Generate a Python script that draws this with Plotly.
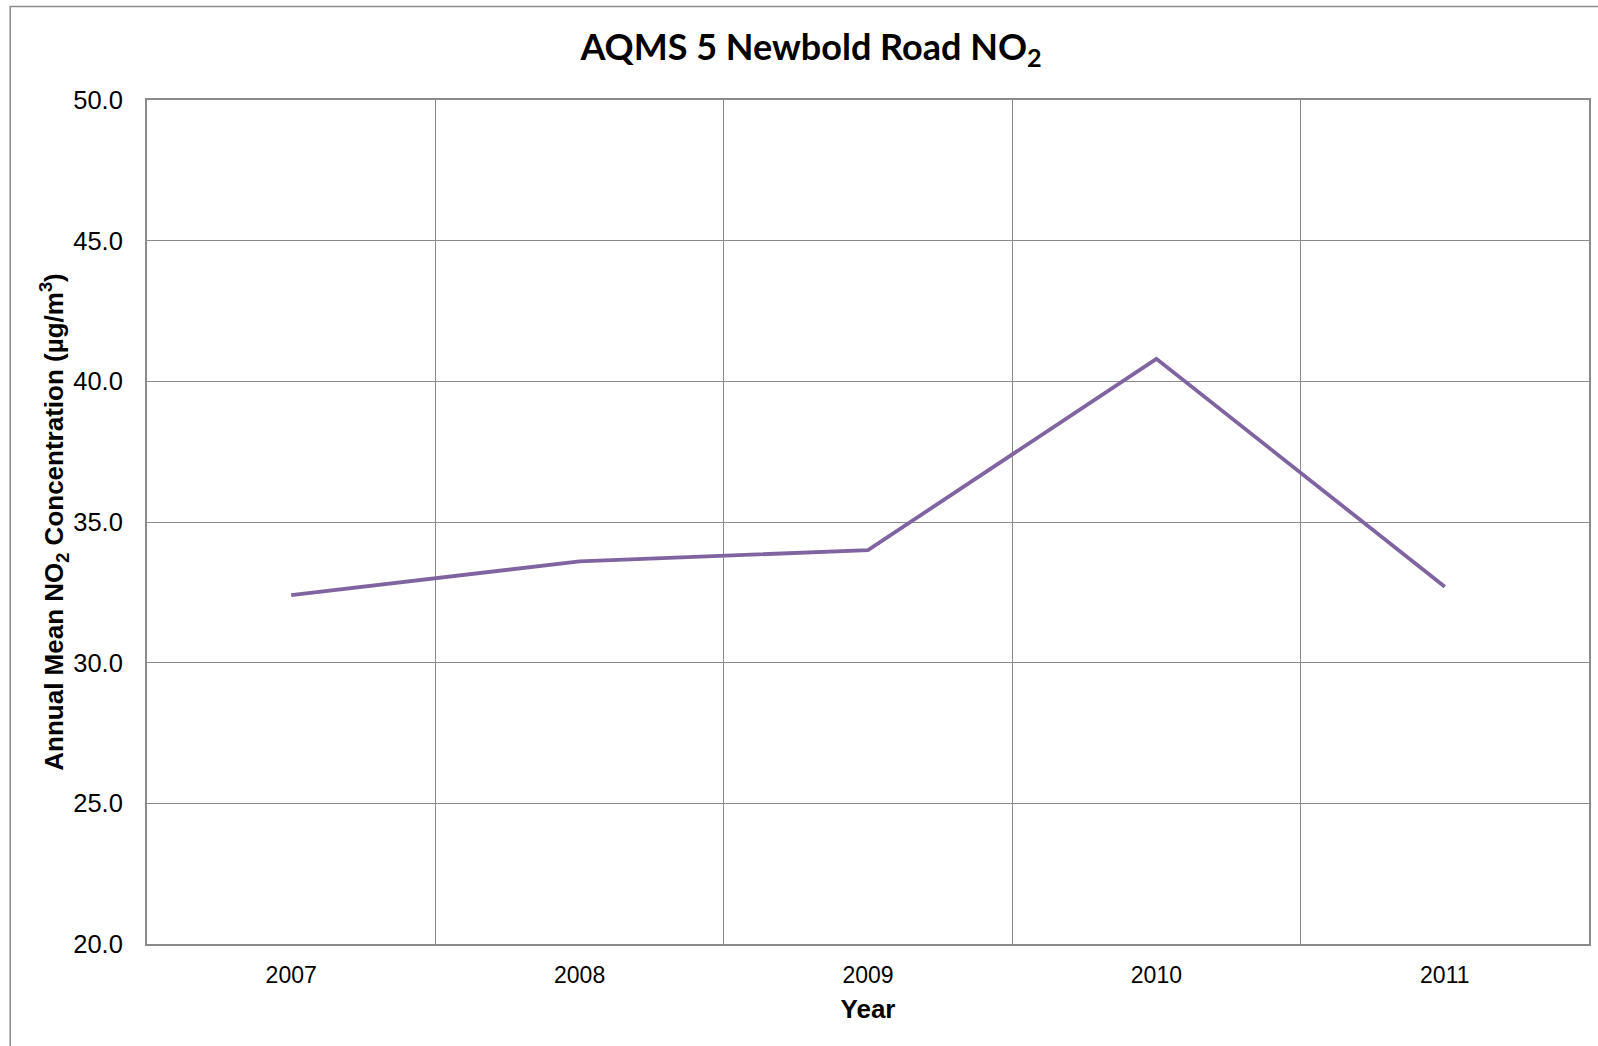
import plotly.graph_objects as go

years = ["2007", "2008", "2009", "2010", "2011"]
no2 = [32.4, 33.6, 34.0, 40.8, 32.7]
y_ticks = [20, 25, 30, 35, 40, 45, 50]

W, H = 1598, 1046
L, R, T, B = 147, 7, 100, 102
PW, PH = W - L - R, H - T - B

def px(x):
    return (x - L) / PW

def py(y):
    return (H - B - y) / PH

fig = go.Figure()
fig.add_trace(go.Scatter(
    x=years, y=no2, mode="lines",
    line=dict(color="#8064A2", width=3.8),
    hoverinfo="x+y", showlegend=False,
))

grid = "#8a8a8a"
fig.update_layout(
    width=W, height=H,
    margin=dict(l=L, r=R, t=T, b=B),
    paper_bgcolor="white", plot_bgcolor="white",
    title=dict(
        text="AQMS 5 Newbold Road NO<sub>2</sub>",
        font=dict(family="Lato", size=36, color="black", weight="bold"),
        x=811 / W, xref="container", xanchor="center",
        y=1 - 47 / H, yref="container", yanchor="middle",
    ),
    xaxis=dict(
        type="category", tickson="boundaries",
        showgrid=True, gridcolor=grid, gridwidth=1,
        showline=True, linecolor=grid, linewidth=2, mirror=True,
        ticks="", ticklabelstandoff=9,
        tickfont=dict(family="Liberation Sans", size=23, color="black"),
        title=dict(text="<b>Year</b>", standoff=13,
                   font=dict(family="Liberation Sans", size=26, color="black")),
        range=[-0.5, 4.5],
    ),
    yaxis=dict(
        range=[20, 50], tickvals=y_ticks, tickformat=".1f",
        showgrid=True, gridcolor=grid, gridwidth=1,
        showline=True, linecolor=grid, linewidth=2, mirror=True,
        ticks="", ticklabelstandoff=17, zeroline=False,
        tickfont=dict(family="Liberation Sans", size=25.5, color="black"),
        title=dict(text="<b>Annual Mean NO<sub>2</sub> Concentration (µg/m<sup>3</sup>)</b>",
                   standoff=2,
                   font=dict(family="Liberation Sans", size=26, color="black")),
    ),
    shapes=[dict(
        type="rect", xref="paper", yref="paper",
        x0=px(10), y0=py(H + 40), x1=px(W + 40), y1=py(6.5),
        line=dict(color="#8a8a8a", width=1.5), fillcolor="rgba(0,0,0,0)",
        layer="below",
    )],
)

fig.write_html("out.html")
